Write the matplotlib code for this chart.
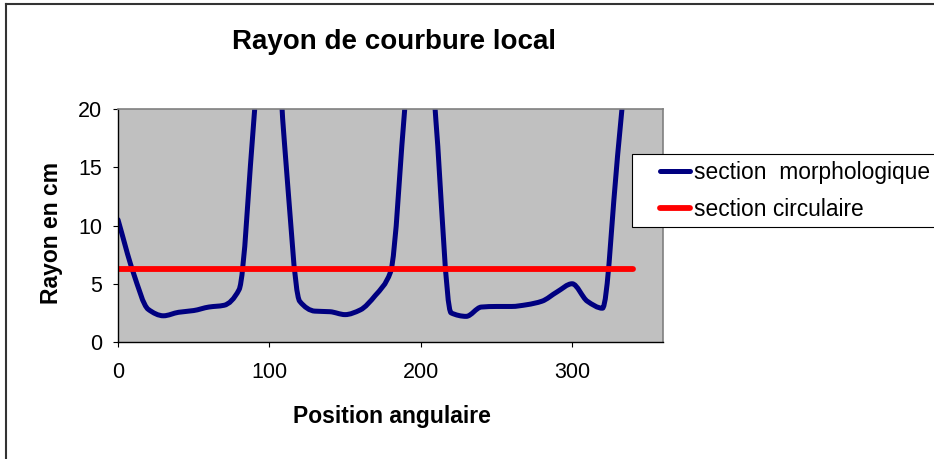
import numpy as np
import matplotlib
matplotlib.use("Agg")
import matplotlib.pyplot as plt
from matplotlib.path import Path
from matplotlib.patches import PathPatch
from matplotlib.lines import Line2D
from matplotlib.legend_handler import HandlerLine2D

plt.rcParams['font.family'] = ['Liberation Sans', 'DejaVu Sans']

# donnees
angles = [0, 10, 20, 30, 40, 50, 60, 70, 80, 90, 100, 110, 120, 130, 140, 150, 160,
          170, 180, 190, 200, 210, 220, 230, 240, 250, 260, 270, 280, 290, 300, 310,
          320, 330, 340]
rayon_morpho = [10.5, 6.0, 2.8, 2.25, 2.55, 2.7, 3.0, 3.15, 4.5, 19.5, 35, 17, 3.5, 2.65,
                2.6, 2.35, 2.75, 4.0, 6.0, 21, 35, 19, 2.5, 2.2, 3.0, 3.05, 3.05, 3.2,
                3.5, 4.3, 5.0, 3.5, 2.9, 16, 30]
rayon_circ = 6.3
section_circulaire = [rayon_circ] * len(angles)

xticks = [0, 100, 200, 300]
yticks = [0, 5, 10, 15, 20]


def courbe_lissee(xs, ys):
    # courbe lissee (Bezier cubique, pentes sans depassement)
    x = np.asarray(xs, float)
    y = np.asarray(ys, float)
    h = np.diff(x)
    d = np.diff(y) / h
    m = np.zeros_like(y)
    m[0], m[-1] = d[0], d[-1]
    for i in range(1, len(y) - 1):
        if d[i - 1] * d[i] > 0:
            m[i] = 2 * d[i - 1] * d[i] / (d[i - 1] + d[i])
    verts = [(x[0], y[0])]
    codes = [Path.MOVETO]
    for i in range(len(x) - 1):
        verts += [(x[i] + h[i] / 3, y[i] + m[i] * h[i] / 3),
                  (x[i + 1] - h[i] / 3, y[i + 1] - m[i + 1] * h[i] / 3),
                  (x[i + 1], y[i + 1])]
        codes += [Path.CURVE4] * 3
    return Path(verts, codes)


class TraitDecale(HandlerLine2D):
    # trait de legende decale vers le texte
    def get_xdata(self, legend, xdescent, ydescent, width, height, fontsize):
        xd, xm = super().get_xdata(legend, xdescent, ydescent, width, height, fontsize)
        xd = np.array([xd[0] + 0.42 * width, xd[-1]])
        return xd, xm


W, H = 934, 459
fig = plt.figure(figsize=(W / 100, H / 100), dpi=100)
ax = fig.add_axes([118 / W, 1 - 342 / H, 545 / W, 233 / H])
ax.set_facecolor('#C0C0C0')

bleu = '#000080'
ax.add_patch(PathPatch(courbe_lissee(angles, rayon_morpho), fill=False,
                       edgecolor=bleu, lw=3.6, capstyle='round', joinstyle='round'))
ax.plot(angles, section_circulaire, color='#FF0000', lw=4.2, solid_capstyle='round')

ax.set_xlim(0, 360)
ax.set_ylim(0, 20)
ax.set_xticks(xticks)
ax.set_yticks(yticks)
ax.tick_params(axis='both', direction='out', length=3.6, width=0.8, labelsize=15.5,
               colors='black')
ax.tick_params(axis='x', pad=11)
ax.tick_params(axis='y', pad=8)

for s in ['top', 'right']:
    ax.spines[s].set_color('#808080')
    ax.spines[s].set_linewidth(1.2)
for s in ['left', 'bottom']:
    ax.spines[s].set_color('black')
    ax.spines[s].set_linewidth(1.0)

ax.set_xlabel('Position angulaire', fontsize=16.5, fontweight='bold', va='center')
ax.xaxis.set_label_coords((391.7 - 118) / 545, (342 - 416.7) / 233)
ax.set_ylabel('Rayon en cm', fontsize=16.5, fontweight='bold', va='center')
ax.yaxis.set_label_coords((51.7 - 118) / 545, (342 - 233) / 233)

fig.text(394 / W, 1 - 41.7 / H, 'Rayon de courbure local', fontsize=20,
         fontweight='bold', ha='center', va='center')

h_bleu = Line2D([], [], color=bleu, lw=3.6, solid_capstyle='round')
h_rouge = Line2D([], [], color='#FF0000', lw=4.2, solid_capstyle='round')
leg = fig.legend([h_bleu, h_rouge], ['section  morphologique', 'section circulaire'],
                 loc='upper left', bbox_to_anchor=(632 / W, 1 - 154 / H),
                 bbox_transform=fig.transFigure, fontsize=16.4, frameon=True,
                 fancybox=False, framealpha=1, edgecolor='black', borderaxespad=0,
                 handlelength=2.26, handletextpad=0.15, labelspacing=0.6,
                 borderpad=0.3,
                 handler_map={h_bleu: TraitDecale(), h_rouge: TraitDecale()})
leg.get_frame().set_linewidth(0.8)

# cadre du graphique
fig.add_artist(Line2D([5.5 / W, 1], [1 - 3.5 / H, 1 - 3.5 / H], transform=fig.transFigure,
                      color='#333333', lw=1.5))
fig.add_artist(Line2D([5.5 / W, 5.5 / W], [0, 1 - 3.5 / H], transform=fig.transFigure,
                      color='#333333', lw=1.5))

fig.savefig('out.png', dpi=100)
